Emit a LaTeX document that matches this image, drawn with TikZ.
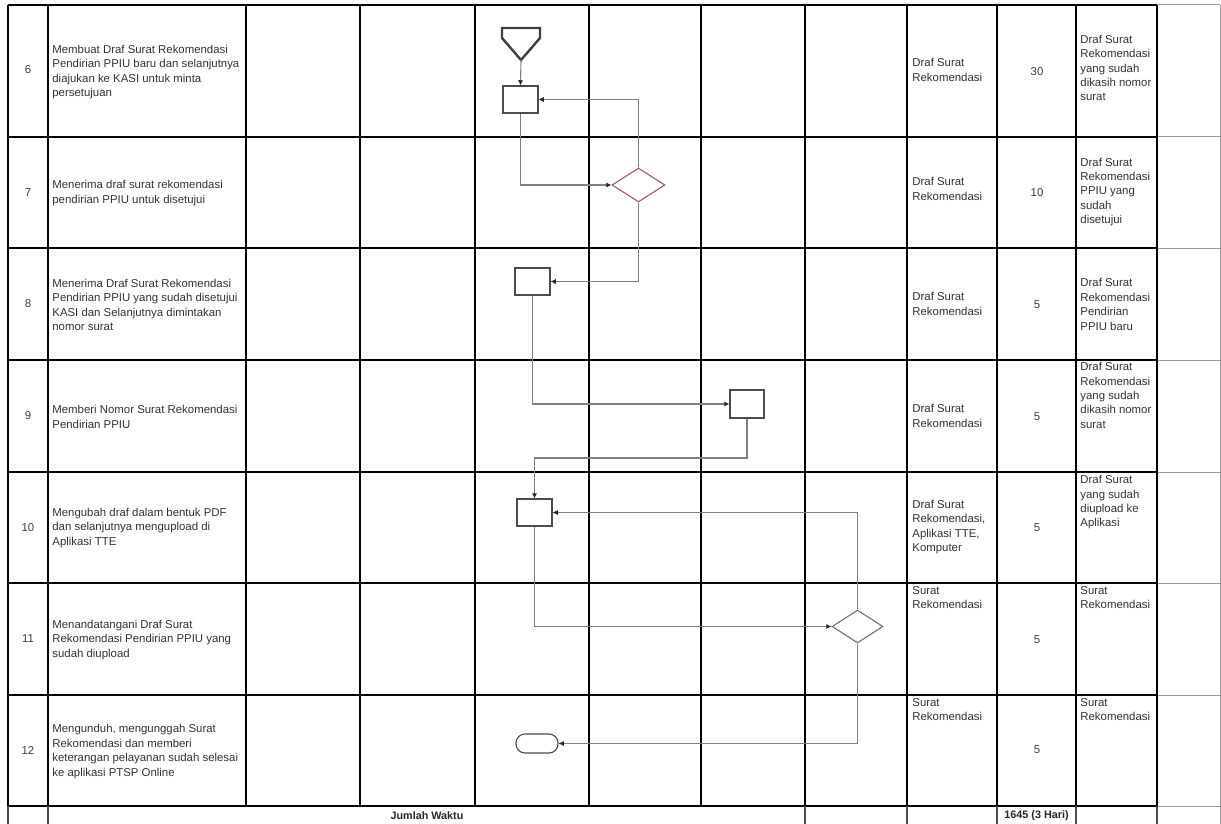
\documentclass[tikz,border=0pt]{standalone}
\usepackage{fontspec}
\setmainfont{Liberation Sans}
\usetikzlibrary{shapes.geometric,arrows.meta}
\definecolor{decred}{RGB}{150,95,105}
\begin{document}
\begin{tikzpicture}[x=0.5pt,y=-0.5pt,
  gridline/.style={line width=1.3pt,black},
  thinline/.style={line width=0.5pt,black!40},
  footline/.style={line width=0.7pt,black!70},
  txt/.style={font=\fontsize{5.7}{7.2}\selectfont,align=left,inner sep=0pt,text=black!80},
  numtxt/.style={font=\fontsize{5.7}{7.2}\selectfont,inner sep=0pt,text=black!75},
  boldtxt/.style={font=\bfseries\fontsize{5.4}{6.5}\selectfont,inner sep=0pt,text=black!85},
  proc/.style={draw=black!70,line width=0.55pt,minimum width=17.5pt,minimum height=13.5pt,inner sep=0pt},
  dec/.style={diamond,draw=black!55,line width=0.55pt,minimum width=26.5pt,minimum height=17pt,inner sep=0pt},
  flow/.style={draw=black!50,line width=0.55pt,-{Latex[length=2.6pt,width=2.6pt,color=black!85]}}
]
\fill[white] (0,0) rectangle (1221,824);
\useasboundingbox (0,0) rectangle (1221,824);

% ---- table grid ----
\foreach \y in {5,137,248,360,472,583,695,806}{
  \draw[gridline] (8,\y) -- (1157,\y);
  \draw[thinline] (1157,\y) -- (1220,\y);
}
\foreach \x in {8,48,246,360,475,589,701,805,907,997,1076,1157}{
  \draw[gridline] (\x,5) -- (\x,806);
}
\draw[thinline] (1220,5) -- (1220,824);
\foreach \x in {8,48,805,907,997,1076,1157}{
  \draw[footline] (\x,806) -- (\x,824);
}

% ---- numbers ----
\node[numtxt] (n6)  at (28,70)    {6};
\node[numtxt] (n7)  at (28,192.5) {7};
\node[numtxt] (n8)  at (28,304)   {8};
\node[numtxt] (n9)  at (28,416)   {9};
\node[numtxt] (n10) at (28,527.5) {10};
\node[numtxt] (n11) at (28,639)   {11};
\node[numtxt] (n12) at (28,750.5) {12};

% ---- descriptions ----
\node[txt,anchor=west] (d6)  at (52,72)    {Membuat Draf Surat Rekomendasi\\Pendirian PPIU baru dan selanjutnya\\diajukan ke KASI untuk minta\\persetujuan};
\node[txt,anchor=west] (d7)  at (52,193)   {Menerima draf surat rekomendasi\\pendirian PPIU untuk disetujui};
\node[txt,anchor=west] (d8)  at (52,305)   {Menerima Draf Surat Rekomendasi\\Pendirian PPIU yang sudah disetujui\\KASI dan Selanjutnya dimintakan\\nomor surat};
\node[txt,anchor=west] (d9)  at (52,417)   {Memberi Nomor Surat Rekomendasi\\Pendirian PPIU};
\node[txt,anchor=west] (d10) at (52,528)   {Mengubah draf dalam bentuk PDF\\dan selanjutnya mengupload di\\Aplikasi TTE};
\node[txt,anchor=west] (d11) at (52,640)   {Menandatangani Draf Surat\\Rekomendasi Pendirian PPIU yang\\sudah diupload};
\node[txt,anchor=west] (d12) at (52,751.5) {Mengunduh, mengunggah Surat\\Rekomendasi dan memberi\\keterangan pelayanan sudah selesai\\ke aplikasi PTSP Online};

% ---- resources ----
\node[txt,anchor=west] (k6)  at (912,70)  {Draf Surat\\Rekomendasi};
\node[txt,anchor=west] (k7)  at (912,189) {Draf Surat\\Rekomendasi};
\node[txt,anchor=west] (k8)  at (912,304) {Draf Surat\\Rekomendasi};
\node[txt,anchor=west] (k9)  at (912,416) {Draf Surat\\Rekomendasi};
\node[txt,anchor=west] (k10) at (912,527) {Draf Surat\\Rekomendasi,\\Aplikasi TTE,\\Komputer};
\node[txt,anchor=north west] (k11) at (912,586) {Surat\\Rekomendasi};
\node[txt,anchor=north west] (k12) at (912,698) {Surat\\Rekomendasi};

% ---- time ----
\node[numtxt] (w6)  at (1037,72)  {30};
\node[numtxt] (w7)  at (1037,193) {10};
\node[numtxt] (w8)  at (1037,305) {5};
\node[numtxt] (w9)  at (1037,417) {5};
\node[numtxt] (w10) at (1037,528) {5};
\node[numtxt] (w11) at (1037,640) {5};
\node[numtxt] (w12) at (1037,750) {5};

% ---- output ----
\node[txt,anchor=west] (o6) at (1080,68)  {Draf Surat\\Rekomendasi\\yang sudah\\dikasih nomor\\surat};
\node[txt,anchor=west] (o7) at (1080,192) {Draf Surat\\Rekomendasi\\PPIU yang\\sudah\\disetujui};
\node[txt,anchor=west] (o8) at (1080,304.5) {Draf Surat\\Rekomendasi\\Pendirian\\PPIU baru};
\node[txt,anchor=north west] (o9)  at (1080,362) {Draf Surat\\Rekomendasi\\yang sudah\\dikasih nomor\\surat};
\node[txt,anchor=north west] (o10) at (1080,475) {Draf Surat\\yang sudah\\diupload ke\\Aplikasi};
\node[txt,anchor=north west] (o11) at (1080,586) {Surat\\Rekomendasi};
\node[txt,anchor=north west] (o12) at (1080,698) {Surat\\Rekomendasi};

% ---- footer ----
\node[boldtxt] (jw) at (427,815.5) {Jumlah Waktu};
\node[boldtxt] (tot) at (1036.5,815.5) {1645 (3 Hari)};

% ---- flow shapes ----
\draw[line width=1.2pt,black!75,line join=miter] (502,28) -- (540,28) -- (540,38) -- (521,60) -- (502,38) -- cycle;
\coordinate (opc) at (521,60);
\node[proc] (r6)  at (520.5,99.5) {};
\node[dec,draw=decred] (q7) at (638.5,185) {};
\node[proc] (r8)  at (532.5,281.5) {};
\node[proc,minimum width=17pt,minimum height=14pt] (r9) at (747,404) {};
\coordinate (j9) at (534.5,458);
\node[proc] (r10) at (534.5,512.5) {};
\node[dec,minimum width=25.5pt,minimum height=16.5pt] (q11) at (857.5,626.5) {};
\node[proc,rounded corners=4.5pt,minimum width=21pt,minimum height=9.5pt] (term) at (537,743.5) {};

% ---- connectors ----
\draw[flow] (opc) -- (r6.north);
\draw[flow] (q7.north) |- (r6.east);
\draw[flow] (r6.south) |- (q7.west);
\draw[flow] (q7.south) |- (r8.east);
\draw[flow] (r8.south) |- (r9.west);
\draw[flow] (r9.south) |- (j9) -- (r10.north);
\draw[flow] (q11.north) |- (r10.east);
\draw[flow] (r10.south) |- (q11.west);
\draw[flow] (q11.south) |- (term.east);
\end{tikzpicture}
\end{document}
